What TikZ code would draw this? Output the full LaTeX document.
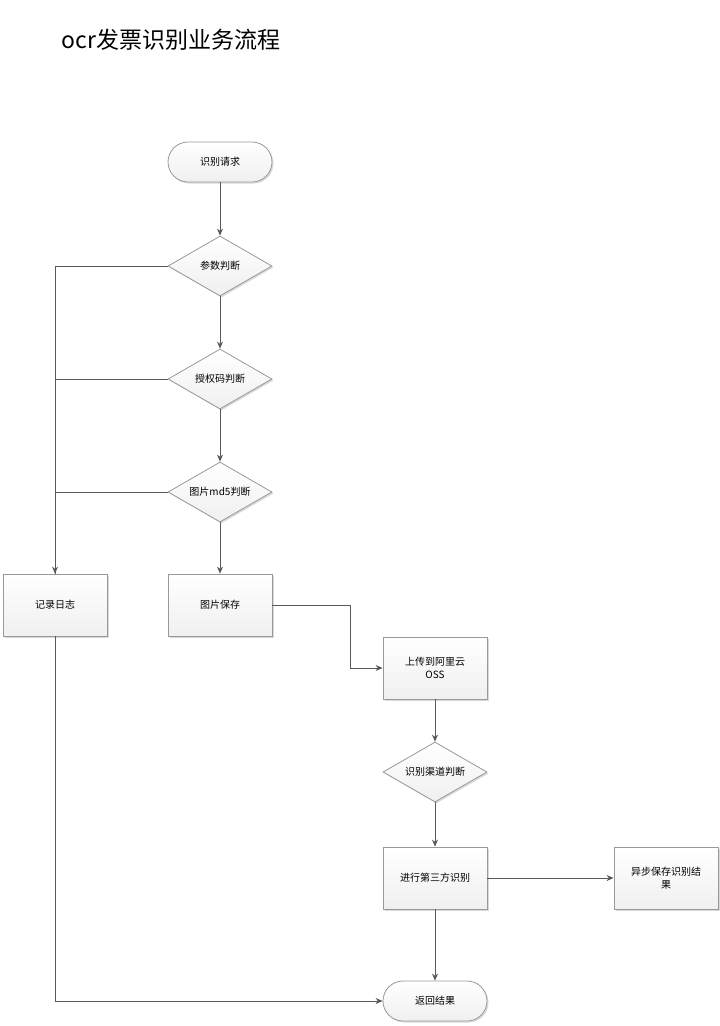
\documentclass[tikz,border=0pt]{standalone}
\usepackage{fontspec}
\newfontfamily\cjk{Noto Sans CJK SC}
\usetikzlibrary{shapes.geometric,arrows.meta,shadows}
\tikzset{
  base/.style={draw=gray!80,thick,font=\cjk\fontsize{10}{13}\selectfont,align=center,
    top color=white,bottom color=gray!12,drop shadow={shadow xshift=1.5pt,shadow yshift=-1.5pt,opacity=0.3}},
  term/.style={base,rounded corners=20pt,minimum width=104pt,minimum height=40pt},
  proc/.style={base,rectangle,minimum width=104pt,minimum height=62pt,text width=90pt},
  decide/.style={base,diamond,aspect=1.73,minimum width=104pt,minimum height=60pt,inner sep=0pt},
  link/.style={draw=gray!70!black,thick,-{Stealth[length=7pt,width=6pt]}},
  line/.style={draw=gray!70!black,thick}
}
\begin{document}
\begin{tikzpicture}[x=1pt,y=-1pt]
\useasboundingbox (0,0) rectangle (720,1026);

\node[anchor=west,font=\cjk\fontsize{23}{26}\selectfont] (title) at (58,40) {ocr发票识别业务流程};

\node[term] (req) at (220,162) {识别请求};
\node[decide] (param) at (220,266) {参数判断};
\node[decide] (auth) at (220,379) {授权码判断};
\node[decide] (md5) at (220,492) {图片md5判断};
\node[proc] (log) at (55,605) {记录日志};
\node[proc] (save) at (220,605) {图片保存};
\node[proc] (oss) at (435,668) {上传到阿里云\\OSS};
\node[decide] (chan) at (435,772) {识别渠道判断};
\node[proc] (third) at (435,878) {进行第三方识别};
\node[proc] (async) at (666,878) {异步保存识别结\\果};
\node[term] (ret) at (435,1001) {返回结果};

\coordinate (bend1) at (350,605);
\coordinate (bend2) at (350,668);

\draw[link] (req) -- (param);
\draw[link] (param) -- (auth);
\draw[link] (auth) -- (md5);
\draw[link] (md5) -- (save);
\draw[line] (param.west) -| (log.north);
\draw[line] (auth.west) -| (log.north);
\draw[link] (md5.west) -| (log.north);
\draw[link] (save.east) -- (bend1) -- (bend2) -- (oss.west);
\draw[link] (oss) -- (chan);
\draw[link] (chan) -- (third);
\draw[link] (third) -- (async);
\draw[link] (third) -- (ret);
\draw[link] (log.south) |- (ret.west);

\end{tikzpicture}
\end{document}
